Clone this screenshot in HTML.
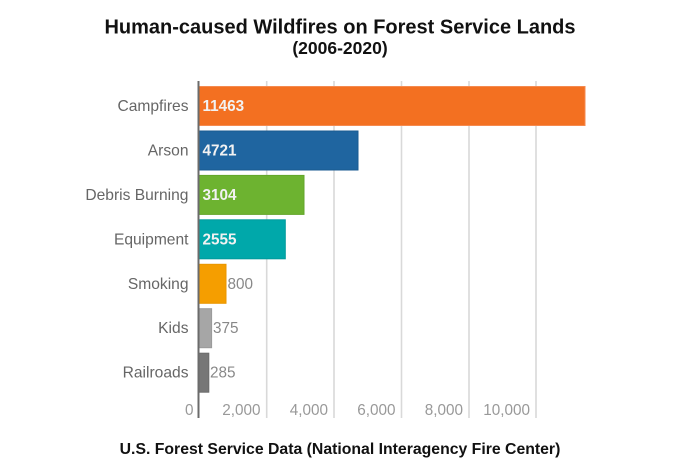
<!DOCTYPE html>
<html>
<head>
<meta charset="utf-8">
<style>
html,body{margin:0;padding:0;background:#fff;}
svg{display:block;}
</style>
</head>
<body>
<svg width="675" height="465" viewBox="0 0 675 465" xmlns="http://www.w3.org/2000/svg" font-family="'Liberation Sans', Arial, sans-serif">
  <rect x="0" y="0" width="675" height="465" fill="#fff"/>
  <!-- Titles -->
  <text x="340" y="33.5" text-anchor="middle" font-size="20" font-weight="bold" fill="#111">Human-caused Wildfires on Forest Service Lands</text>
  <text x="340" y="54" text-anchor="middle" font-size="17.5" font-weight="bold" fill="#111">(2006-2020)</text>

  <!-- Gridlines -->
  <g stroke="#d9d9d9" stroke-width="1.6">
    <line x1="266.7" y1="81" x2="266.7" y2="418"/>
    <line x1="334" y1="81" x2="334" y2="418"/>
    <line x1="401.5" y1="81" x2="401.5" y2="418"/>
    <line x1="469" y1="81" x2="469" y2="418"/>
    <line x1="536" y1="81" x2="536" y2="418"/>
  </g>

  <!-- Tick labels -->
  <g font-size="15.3" fill="#999" text-anchor="end">
    <text x="193.5" y="415">0</text>
    <text x="260.5" y="415">2,000</text>
    <text x="328" y="415">4,000</text>
    <text x="395.5" y="415">6,000</text>
    <text x="463" y="415">8,000</text>
    <text x="530" y="415">10,000</text>
  </g>

  <!-- Bars -->
  <g stroke-width="1">
    <rect x="199" y="86.5" width="386" height="39" fill="#f37021" stroke="#f58a4f"/>
    <rect x="199" y="131" width="159" height="39" fill="#1f65a0" stroke="#1a5a90"/>
    <rect x="199" y="175.4" width="105" height="39" fill="#6db330" stroke="#62a62a"/>
    <rect x="199" y="219.8" width="86.3" height="39" fill="#00a8aa" stroke="#00999b"/>
    <rect x="199" y="264.3" width="27" height="39" fill="#f59e00" stroke="#e99600"/>
    <rect x="199" y="308.7" width="12.6" height="39" fill="#a6a6a6" stroke="#9a9a9a"/>
    <rect x="199" y="353.2" width="9.8" height="39" fill="#777777" stroke="#6c6c6c"/>
  </g>

  <!-- Axis line -->
  <line x1="198.5" y1="81" x2="198.5" y2="418" stroke="#6b6b6b" stroke-width="2"/>

  <!-- Category labels -->
  <g font-size="15.6" fill="#666" text-anchor="end">
    <text x="188.5" y="111">Campfires</text>
    <text x="188.5" y="155.5">Arson</text>
    <text x="188.5" y="200">Debris Burning</text>
    <text x="188.5" y="244.3">Equipment</text>
    <text x="188.5" y="288.8">Smoking</text>
    <text x="188.5" y="333.2">Kids</text>
    <text x="188.5" y="377.7">Railroads</text>
  </g>

  <!-- Value labels -->
  <g font-size="15.3" font-weight="bold" fill="#f2f2f2">
    <text x="202.5" y="111">11463</text>
    <text x="202.5" y="155.5">4721</text>
    <text x="202.5" y="200">3104</text>
    <text x="202.5" y="244.3">2555</text>
  </g>
  <g font-size="15.3" fill="#888">
    <text x="227.5" y="288.8">800</text>
    <text x="213" y="333.2">375</text>
    <text x="210" y="377.7">285</text>
  </g>

  <!-- Footer -->
  <text x="340" y="454" text-anchor="middle" font-size="15.8" font-weight="bold" fill="#111">U.S. Forest Service Data (National Interagency Fire Center)</text>
</svg>
</body>
</html>
